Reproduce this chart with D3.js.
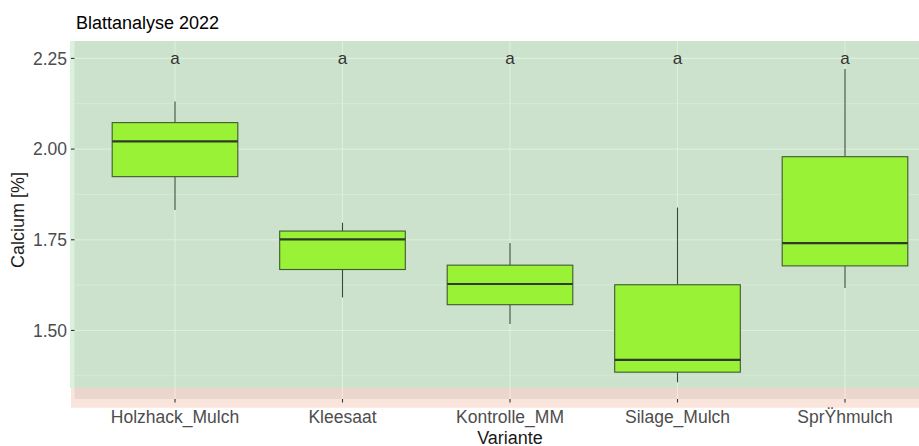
<!DOCTYPE html>
<html>
<head>
<meta charset="utf-8">
<script src="https://cdn.jsdelivr.net/npm/d3@7"></script>
<style>
  body { margin: 0; background: #fff; }
  text { font-family: "Liberation Sans", Arial, sans-serif; }
</style>
</head>
<body>
<div class="chart"></div>
<script>
// Blattanalyse 2022 - Calcium boxplots

var varianten = ['Holzhack_Mulch', 'Kleesaat', 'Kontrolle_MM', 'Silage_Mulch', 'SprŸhmulch']
var whiskerLow = [1.832, 1.591, 1.518, 1.357, 1.617]
var q1 = [1.924, 1.668, 1.571, 1.385, 1.678]
var median = [2.021, 1.751, 1.628, 1.419, 1.741]
var q3 = [2.073, 1.774, 1.680, 1.626, 1.979]
var whiskerHigh = [2.131, 1.797, 1.741, 1.839, 2.221]
var letters = ['a', 'a', 'a', 'a', 'a']
var letterY = 2.25

var yTicks = [1.50, 1.75, 2.00, 2.25]
var yMinor = [1.375, 1.625, 1.875, 2.125]

// background bands (data units)
var greenBand = [1.342, 2.298]
var redBand = [1.287, 1.342]

var data = varianten.map((v, i) => ({
  name: v,
  lo: whiskerLow[i],
  q1: q1[i],
  med: median[i],
  q3: q3[i],
  hi: whiskerHigh[i],
  label: letters[i]
}))

var W = 919, H = 446
var panel = { left: 74.5, right: 945.5, top: 41, bottom: 399 }

var svg = d3.select('.chart')
  .append('svg')
  .attr('width', W)
  .attr('height', H)

var x = d3.scalePoint()
  .domain(varianten)
  .range([panel.left, panel.right])
  .padding(0.6)

var y = d3.scaleLinear()
  .domain([1.311, 2.298])
  .range([panel.bottom, panel.top])

var step = x.step()
var boxW = step * 0.75

// panel background
svg.append('rect')
  .attr('x', panel.left)
  .attr('y', panel.top)
  .attr('width', panel.right - panel.left)
  .attr('height', panel.bottom - panel.top)
  .attr('fill', '#ebebeb')

// grid
var grid = svg.append('g')
grid.selectAll('.minor')
  .data(yMinor)
  .enter()
  .append('line')
  .attr('x1', panel.left).attr('x2', panel.right)
  .attr('y1', d => y(d)).attr('y2', d => y(d))
  .attr('stroke', '#fff')
  .attr('stroke-width', 0.6)
grid.selectAll('.major')
  .data(yTicks)
  .enter()
  .append('line')
  .attr('x1', panel.left).attr('x2', panel.right)
  .attr('y1', d => y(d)).attr('y2', d => y(d))
  .attr('stroke', '#fff')
  .attr('stroke-width', 1.1)
grid.selectAll('.vmajor')
  .data(varianten)
  .enter()
  .append('line')
  .attr('x1', d => x(d)).attr('x2', d => x(d))
  .attr('y1', panel.top).attr('y2', panel.bottom)
  .attr('stroke', '#fff')
  .attr('stroke-width', 1.1)

// coloured bands (drawn unclipped, a bit wider than the panel)
svg.append('rect')
  .attr('x', panel.left - 4.5)
  .attr('y', y(greenBand[1]))
  .attr('width', W)
  .attr('height', y(greenBand[0]) - y(greenBand[1]))
  .attr('fill', 'rgb(125,205,125)')
  .attr('fill-opacity', 0.27)

svg.append('rect')
  .attr('x', panel.left - 3.5)
  .attr('y', y(redBand[1]))
  .attr('width', W)
  .attr('height', y(redBand[0]) - y(redBand[1]))
  .attr('fill', 'rgb(230,155,115)')
  .attr('fill-opacity', 0.26)

// boxes
var boxes = svg.selectAll('.box')
  .data(data)
  .enter()
  .append('g')
  .attr('class', 'box')

boxes.append('line')
  .attr('x1', d => x(d.name)).attr('x2', d => x(d.name))
  .attr('y1', d => y(d.hi)).attr('y2', d => y(d.q3))
  .attr('stroke', '#3b4a3b')
  .attr('stroke-width', 1.1)
boxes.append('line')
  .attr('x1', d => x(d.name)).attr('x2', d => x(d.name))
  .attr('y1', d => y(d.q1)).attr('y2', d => y(d.lo))
  .attr('stroke', '#3b4a3b')
  .attr('stroke-width', 1.1)
boxes.append('rect')
  .attr('x', d => x(d.name) - boxW / 2)
  .attr('y', d => y(d.q3))
  .attr('width', boxW)
  .attr('height', d => y(d.q1) - y(d.q3))
  .attr('fill', '#99f235')
  .attr('stroke', '#3e5a30')
  .attr('stroke-width', 1.1)
boxes.append('line')
  .attr('x1', d => x(d.name) - boxW / 2).attr('x2', d => x(d.name) + boxW / 2)
  .attr('y1', d => y(d.med)).attr('y2', d => y(d.med))
  .attr('stroke', '#2f3a2a')
  .attr('stroke-width', 2.2)

// significance letters
svg.selectAll('.letter')
  .data(data)
  .enter()
  .append('text')
  .attr('x', d => x(d.name))
  .attr('y', y(letterY))
  .attr('dy', '0.32em')
  .attr('text-anchor', 'middle')
  .attr('font-size', 17)
  .attr('fill', '#333')
  .text(d => d.label)

// y axis
var yAxis = svg.append('g')
yAxis.selectAll('line')
  .data(yTicks)
  .enter()
  .append('line')
  .attr('x1', panel.left - 3.5).attr('x2', panel.left)
  .attr('y1', d => y(d)).attr('y2', d => y(d))
  .attr('stroke', '#333')
  .attr('stroke-width', 1.1)
yAxis.selectAll('text')
  .data(yTicks)
  .enter()
  .append('text')
  .attr('x', panel.left - 7.5)
  .attr('y', d => y(d))
  .attr('dy', '0.36em')
  .attr('text-anchor', 'end')
  .attr('font-size', 17.5)
  .attr('fill', '#4d4d4d')
  .text(d => d3.format('.2f')(d))

// x axis
var xAxis = svg.append('g')
xAxis.selectAll('line')
  .data(varianten)
  .enter()
  .append('line')
  .attr('x1', d => x(d)).attr('x2', d => x(d))
  .attr('y1', panel.bottom).attr('y2', panel.bottom + 3.5)
  .attr('stroke', '#333')
  .attr('stroke-width', 1.1)
xAxis.selectAll('text')
  .data(varianten)
  .enter()
  .append('text')
  .attr('x', d => x(d))
  .attr('y', 423)
  .attr('text-anchor', 'middle')
  .attr('font-size', 17.5)
  .attr('fill', '#4d4d4d')
  .text(d => d)

// titles
svg.append('text')
  .attr('x', (panel.left + panel.right) / 2)
  .attr('y', 444)
  .attr('text-anchor', 'middle')
  .attr('font-size', 18)
  .attr('fill', '#1a1a1a')
  .text('Variante')

svg.append('text')
  .attr('transform', 'translate(24,' + ((panel.top + panel.bottom) / 2) + ') rotate(-90)')
  .attr('text-anchor', 'middle')
  .attr('font-size', 18)
  .attr('fill', '#1a1a1a')
  .text('Calcium [%]')

svg.append('text')
  .attr('x', 76)
  .attr('y', 29)
  .attr('font-size', 18)
  .attr('fill', '#000')
  .text('Blattanalyse 2022')
</script>
</body>
</html>
